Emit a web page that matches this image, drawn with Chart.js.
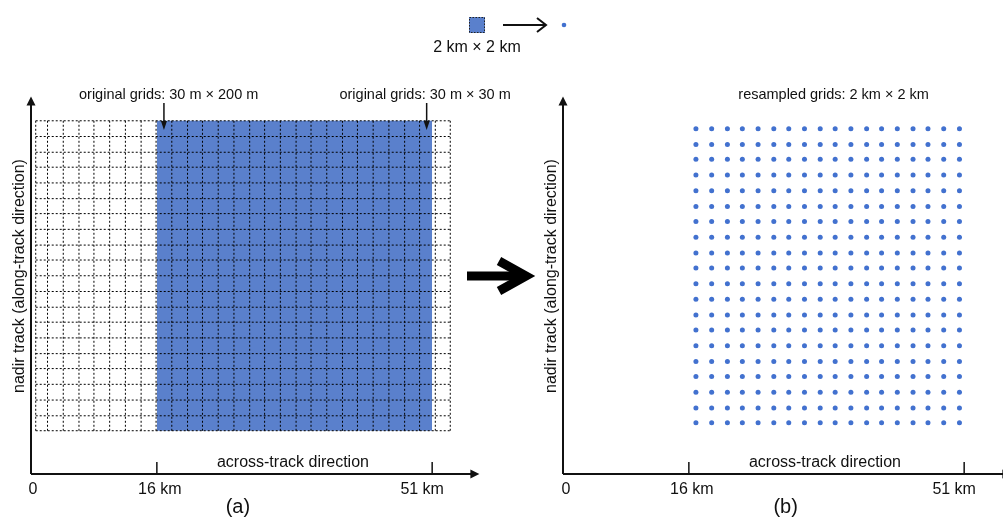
<!DOCTYPE html>
<html lang="en">
<head>
    <meta charset="UTF-8">
    <title>Resampling of original grids to 2 km grids</title>
    <script src="https://cdn.jsdelivr.net/npm/chart.js@4.4.0/dist/chart.umd.min.js"></script>
    <style>
        html, body { margin: 0; padding: 0; background: #fff; overflow: hidden; }
        #wrap { position: relative; width: 1003px; height: 521px; overflow: hidden; }
        #wrap canvas { position: absolute; top: 0; }
        #panelA { left: 0; }
        #panelB { left: 532px; }
    </style>
</head>
<body>
<div id="wrap">
    <canvas id="panelA" width="1003" height="521"></canvas>
    <canvas id="panelB" width="533" height="521"></canvas>
</div>

<script>
    // across-track / along-track positions in km
    const gridCols = [0.6, 2.1, 4.1, 6.1, 8.0, 10.0, 12.0, 14.0, 15.9, 17.9, 19.9, 21.8, 23.8, 25.8,
                      27.8, 29.7, 31.7, 33.7, 35.6, 37.6, 39.6, 41.5, 43.5, 45.5, 47.5, 49.4, 51.4, 53.3];
    const gridRows = [44.9, 42.9, 40.9, 39.0, 37.0, 35.0, 33.1, 31.1, 29.1, 27.2, 25.2,
                      23.2, 21.2, 19.3, 17.3, 15.3, 13.4, 11.4, 9.4, 7.4, 5.5];
    const swath = [16, 51];
    const dotCols = [16.9, 18.9, 20.9, 22.8, 24.8, 26.8, 28.7, 30.7, 32.7, 34.6, 36.6, 38.6,
                     40.5, 42.5, 44.5, 46.4, 48.4, 50.4];
    const dotRows = [43.9, 41.9, 40.0, 38.0, 36.0, 34.0, 32.1, 30.1, 28.1, 26.2, 24.2, 22.2,
                     20.2, 18.3, 16.3, 14.3, 12.4, 10.4, 8.4, 6.5];
    const tickValues = [0, 16, 51];
    const tickLabels = ['0', '16 km', '51 km'];

    const FONT = "'Liberation Sans', Arial, sans-serif";
    const BLUE_FILL = '#5a80cc';
    const BLUE_DOT = '#4271cf';
    const INK = '#111';

    const gridTop = gridRows[0];
    const gridBottom = gridRows[gridRows.length - 1];

    // dotted grid as broken line segments
    const vLines = gridCols.flatMap(x => [{x: x, y: gridTop}, {x: x, y: gridBottom}, {x: x, y: null}]);
    const hLines = gridRows.flatMap(y => [{x: gridCols[0], y: y}, {x: gridCols[gridCols.length - 1], y: y}, {x: null, y: null}]);
    const dots = dotRows.flatMap(y => dotCols.map(x => ({x: x, y: y})));

    function text(ctx, str, x, y, size, align) {
        ctx.save();
        ctx.font = size + 'px ' + FONT;
        ctx.fillStyle = INK;
        ctx.textAlign = align || 'center';
        ctx.textBaseline = 'middle';
        ctx.fillText(str, x, y);
        ctx.restore();
    }

    function downArrow(ctx, x, y0, y1) {
        ctx.save();
        ctx.strokeStyle = INK;
        ctx.fillStyle = INK;
        ctx.lineWidth = 1.5;
        ctx.beginPath();
        ctx.moveTo(x, y0);
        ctx.lineTo(x, y1 - 7);
        ctx.stroke();
        ctx.beginPath();
        ctx.moveTo(x, y1);
        ctx.lineTo(x - 3, y1 - 9);
        ctx.lineTo(x + 3, y1 - 9);
        ctx.closePath();
        ctx.fill();
        ctx.restore();
    }

    // axes with arrow heads, ticks, labels and annotations
    const panelDecor = {
        id: 'panelDecor',
        afterDraw(chart, args, opts) {
            const ctx = chart.ctx;
            const area = chart.chartArea;
            const xs = chart.scales.x;
            const x0 = area.left, y0 = area.bottom;

            ctx.save();
            ctx.strokeStyle = INK;
            ctx.fillStyle = INK;
            ctx.lineWidth = 2;
            ctx.beginPath();
            ctx.moveTo(x0, y0);
            ctx.lineTo(x0, area.top + 8);
            ctx.moveTo(x0, y0);
            ctx.lineTo(area.right - 8, y0);
            ctx.stroke();
            ctx.beginPath();
            ctx.moveTo(x0, area.top);
            ctx.lineTo(x0 - 4.5, area.top + 9);
            ctx.lineTo(x0 + 4.5, area.top + 9);
            ctx.closePath();
            ctx.fill();
            ctx.beginPath();
            ctx.moveTo(area.right, y0);
            ctx.lineTo(area.right - 9, y0 - 4.5);
            ctx.lineTo(area.right - 9, y0 + 4.5);
            ctx.closePath();
            ctx.fill();

            ctx.lineWidth = 1.5;
            tickValues.forEach(v => {
                if (v === 0) return;
                const px = xs.getPixelForValue(v);
                ctx.beginPath();
                ctx.moveTo(px, y0);
                ctx.lineTo(px, y0 - 12);
                ctx.stroke();
            });
            ctx.restore();

            tickValues.forEach((v, i) => {
                text(ctx, tickLabels[i], xs.getPixelForValue(v) + opts.labelShift[i], y0 + 16, 16);
            });

            text(ctx, 'across-track direction', xs.getPixelForValue(33.3), y0 - 11, 16);
            text(ctx, opts.panel, xs.getPixelForValue(opts.panelAt), 507, 20);

            ctx.save();
            ctx.translate(x0 - 11, 276);
            ctx.rotate(-Math.PI / 2);
            text(ctx, 'nadir track (along-track direction)', 0, 0, 16);
            ctx.restore();

            opts.titles.forEach(t => {
                text(ctx, t.label, xs.getPixelForValue(t.at), 95, 14.5);
                if (t.arrowAt !== undefined) {
                    downArrow(ctx, xs.getPixelForValue(t.arrowAt), 103, 130);
                }
            });

            if (opts.extras) opts.extras(ctx);
        }
    };

    // top key and the big arrow between the panels
    function drawExtras(ctx) {
        ctx.save();
        ctx.fillStyle = BLUE_FILL;
        ctx.fillRect(469, 17, 16, 16);
        ctx.strokeStyle = '#222';
        ctx.lineWidth = 1;
        ctx.setLineDash([1.5, 1.5]);
        ctx.strokeRect(469.5, 17.5, 15, 15);
        ctx.setLineDash([]);

        ctx.strokeStyle = INK;
        ctx.lineWidth = 2;
        ctx.beginPath();
        ctx.moveTo(503, 25);
        ctx.lineTo(546, 25);
        ctx.moveTo(537, 18);
        ctx.lineTo(546, 25);
        ctx.lineTo(537, 32);
        ctx.stroke();

        ctx.fillStyle = BLUE_DOT;
        ctx.beginPath();
        ctx.arc(564, 25, 2.3, 0, Math.PI * 2);
        ctx.fill();

        ctx.strokeStyle = '#000';
        ctx.lineWidth = 9;
        ctx.lineCap = 'butt';
        ctx.lineJoin = 'miter';
        ctx.beginPath();
        ctx.moveTo(467, 276);
        ctx.lineTo(520, 276);
        ctx.stroke();
        ctx.beginPath();
        ctx.moveTo(499, 261);
        ctx.lineTo(526, 276);
        ctx.lineTo(499, 291);
        ctx.stroke();
        ctx.restore();

        text(ctx, '2 km \u00d7 2 km', 477, 48, 16);
    }

    function baseOptions(decor) {
        return {
            responsive: false,
            animation: false,
            events: [],
            layout: { padding: { left: 31, right: 0, top: 96.4, bottom: 47 } },
            scales: {
                x: { type: 'linear', min: 0, max: 57, display: false },
                y: { type: 'linear', min: 0, max: 48, display: false }
            },
            plugins: {
                legend: { display: false },
                tooltip: { enabled: false },
                panelDecor: decor
            }
        };
    }

    const optsA = baseOptions({
        panel: '(a)',
        panelAt: 26.3,
        labelShift: [2, 3, -10],
        titles: [
            { label: 'original grids: 30 m \u00d7 200 m', at: 17.5, arrowAt: 16.9 },
            { label: 'original grids: 30 m \u00d7 30 m', at: 50.1, arrowAt: 50.3 }
        ],
        extras: drawExtras
    });
    optsA.layout.padding.right = 1003 - 31 - 57 * 7.866;

    new Chart(document.getElementById('panelA'), {
        type: 'line',
        data: {
            datasets: [
                {
                    label: 'grid rows',
                    data: hLines,
                    borderColor: '#000',
                    borderWidth: 1,
                    borderDash: [2, 2],
                    pointRadius: 0,
                    fill: false,
                    spanGaps: false,
                    order: 1
                },
                {
                    label: 'grid columns',
                    data: vLines,
                    borderColor: '#000',
                    borderWidth: 1,
                    borderDash: [2, 2],
                    pointRadius: 0,
                    fill: false,
                    spanGaps: false,
                    order: 1
                },
                {
                    label: 'swath',
                    data: swath.map(x => ({x: x, y: gridTop})),
                    borderWidth: 0,
                    pointRadius: 0,
                    backgroundColor: BLUE_FILL,
                    fill: { value: gridBottom },
                    order: 2
                }
            ]
        },
        options: optsA,
        plugins: [panelDecor]
    });

    const optsB = baseOptions({
        panel: '(b)',
        panelAt: 28.3,
        labelShift: [3, 3, -10],
        titles: [
            { label: 'resampled grids: 2 km \u00d7 2 km', at: 34.4 }
        ]
    });
    optsB.layout.padding.right = 533 - 31 - 57 * 7.866;

    new Chart(document.getElementById('panelB'), {
        type: 'line',
        data: {
            datasets: [
                {
                    label: 'resampled grids',
                    data: dots,
                    showLine: false,
                    pointRadius: 2.5,
                    pointBorderWidth: 0,
                    pointBackgroundColor: BLUE_DOT,
                    pointBorderColor: BLUE_DOT
                }
            ]
        },
        options: optsB,
        plugins: [panelDecor]
    });
</script>
</body>
</html>
